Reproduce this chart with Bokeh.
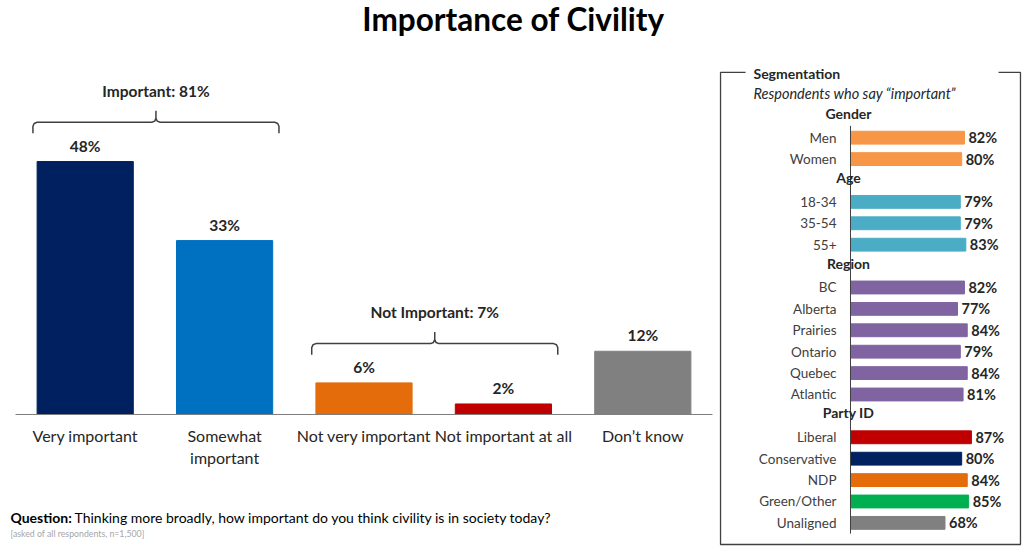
from bokeh.plotting import figure
from bokeh.models import Range1d, FixedTicker, ColumnDataSource
from bokeh.layouts import column, row
from bokeh.core.properties import value
from bokeh.embed import file_html
from bokeh.resources import INLINE

FONT = value("Lato")

# ---------------- data ----------------
categories = ["Very important", "Somewhat important", "Not very important",
              "Not important at all", "Don\u2019t know"]
tick_labels = ["Very important", "Somewhat\nimportant", "Not very important",
               "Not important at all", "Don\u2019t know"]
values = [48, 33, 6, 2, 12]
bar_colors = ["#002060", "#0070C0", "#E46C0A", "#C00000", "#808080"]

group_labels = ["Important: 81%", "Not Important: 7%"]
group_members = [[0, 1], [2, 3]]

seg_groups = ["Gender", "Age", "Region", "Party ID"]
gender_labels = ["Men", "Women"]
gender_values = [82, 80]
age_labels = ["18-34", "35-54", "55+"]
age_values = [79, 79, 83]
region_labels = ["BC", "Alberta", "Prairies", "Ontario", "Quebec", "Atlantic"]
region_values = [82, 77, 84, 79, 84, 81]
party_labels = ["Liberal", "Conservative", "NDP", "Green/Other", "Unaligned"]
party_values = [87, 80, 84, 85, 68]
gender_colors = ["#F79646"] * 2
age_colors = ["#4BACC6"] * 3
region_colors = ["#8064A2"] * 6
party_colors = ["#C00000", "#002060", "#E46C0A", "#00B050", "#808080"]

TXT = "#262626"
LINE = "#404040"


def clean(p):
    p.xgrid.visible = False
    p.ygrid.visible = False
    p.outline_line_color = None
    p.background_fill_color = "white"
    p.border_fill_color = "white"


# ---------------- title ----------------
tf = figure(width=1024, height=48, x_range=Range1d(0, 1024), y_range=Range1d(0, 48),
            output_backend="svg", toolbar_location=None,
            x_axis_location=None, y_axis_location=None,
            min_border_left=0, min_border_right=0,
            min_border_top=0, min_border_bottom=0)
clean(tf)
tf.text(x=[513], y=[30], text=["Importance of Civility"], text_font=FONT,
        text_font_size="31.5px", text_font_style="bold", text_color="black",
        text_align="center", text_baseline="middle")

# ---------------- main chart ----------------
n = len(categories)
xs = [i + 0.5 for i in range(n)]
PX = 139.4  # pixels per category slot
p = figure(width=716, height=457, x_range=Range1d(-15 / PX, n + 4 / PX),
           y_range=Range1d(-0.19, 69.45),
           output_backend="svg", toolbar_location=None, y_axis_location=None,
           min_border_left=0, min_border_right=0, min_border_top=0, min_border_bottom=90)
clean(p)
src = ColumnDataSource(dict(x=xs, top=values, color=bar_colors,
                            lbl=[f"{v}%" for v in values]))
p.vbar(x="x", top="top", width=0.69, color="color", source=src)
p.segment(x0=[0], y0=[0], x1=[n], y1=[0], line_color="#7f7f7f", line_width=1)
p.text(x="x", y="top", text="lbl", source=src, text_font=FONT, text_font_size="15.5px",
       text_font_style="bold", text_color=TXT, text_align="center",
       text_baseline="bottom", y_offset=-7)

ax = p.xaxis[0]
ax.ticker = FixedTicker(ticks=xs)
ax.major_label_overrides = {x: lab for x, lab in zip(xs, tick_labels)}
ax.major_tick_line_color = None
ax.minor_tick_line_color = None
ax.major_label_standoff = 4
ax.axis_line_color = None
ax.major_label_text_font = "Lato"
ax.major_label_text_font_size = "16px"
ax.major_label_text_color = TXT

# braces
for lab, mem in zip(group_labels, group_members):
    x0 = xs[mem[0]] - 0.345 - 0.03
    x1 = xs[mem[-1]] + 0.345 + 0.045
    xc = (x0 + x1) / 2
    h = max(values[i] for i in mem) + 7.45
    rx, ry = 0.03, 0.75
    bx = [x0, x0, x0 + rx * 0.3, x0 + rx, xc - rx, xc - rx * 0.3, xc, xc,
          xc, xc + rx * 0.3, xc + rx, x1 - rx, x1 - rx * 0.3, x1, x1]
    by = [h - 2.1, h - ry, h - ry * 0.3, h, h, h + ry * 0.3, h + ry, h + 2.2,
          h + ry, h + ry * 0.3, h, h, h - ry * 0.3, h - ry, h - 2.1]
    p.line(bx, by, line_color=LINE, line_width=1.5)
    p.text(x=[xc], y=[h + 6.0], text=[lab], text_font=FONT, text_font_size="15.5px",
           text_font_style="bold", text_color=TXT, text_align="center",
           text_baseline="middle")

# ---------------- question ----------------
qf = figure(width=716, height=48, x_range=Range1d(0, 716), y_range=Range1d(0, 48),
            output_backend="svg", toolbar_location=None,
            x_axis_location=None, y_axis_location=None,
            min_border_left=0, min_border_right=0, min_border_top=0, min_border_bottom=0)
clean(qf)
qf.text(x=[10], y=[36], text=["Question:"], text_font=FONT, text_font_size="14px",
        text_font_style="bold", text_color="black", text_align="left", text_baseline="middle")
qf.text(x=[74], y=[36], text=["Thinking more broadly, how important do you think civility is in society today?"],
        text_font=FONT, text_font_size="14px", text_color="black",
        text_align="left", text_baseline="middle")
qf.text(x=[10], y=[20], text=["[asked of all respondents, n=1,500]"], text_font=FONT,
        text_font_size="8.75px", text_color="#a6a6a6", text_align="left", text_baseline="middle")

# ---------------- segmentation panel ----------------
s = figure(width=308, height=505, x_range=Range1d(-96.4, 125.2),
           y_range=Range1d(start=22.43, end=-0.70),
           output_backend="svg", toolbar_location=None,
           x_axis_location=None, y_axis_location=None,
           min_border_left=0, min_border_right=0, min_border_top=10, min_border_bottom=0)
clean(s)

blocks = [(gender_labels, gender_values, gender_colors),
          (age_labels, age_values, age_colors),
          (region_labels, region_values, region_colors),
          (party_labels, party_values, party_colors)]
hy, hl = [], []
ry_, rl, rv, rc = [], [], [], []
idx = 2
for g, (labs, vals, cols) in zip(seg_groups, blocks):
    hy.append(idx)
    hl.append(g)
    idx += 1
    for l, v, c in zip(labs, vals, cols):
        ry_.append(idx)
        rl.append(l)
        rv.append(v)
        rc.append(c)
        idx += 1

ssrc = ColumnDataSource(dict(y=ry_, lab=rl, v=rv, c=rc, vl=[f"{v}%" for v in rv],
                             zero=[0] * len(rv)))
s.hbar(y="y", left=0, right="v", height=0.6, color="c", source=ssrc)
s.segment(x0=[0], y0=[2.45], x1=[0], y1=[21.5], line_color=LINE, line_width=1)
s.text(x="zero", y="y", text="lab", source=ssrc, text_font=FONT, text_font_size="13.5px",
       text_color="#404040", text_align="right", text_baseline="middle", x_offset=-14)
s.text(x="v", y="y", text="vl", source=ssrc, text_font=FONT, text_font_size="14.5px",
       text_font_style="bold", text_color=TXT, text_align="left", text_baseline="middle",
       x_offset=4)
s.text(x=[0] * len(hy), y=hy, text=hl, text_font=FONT, text_font_size="14px",
       text_font_style="bold", text_color=TXT, text_align="center", text_baseline="middle",
       x_offset=-2, y_offset=-3)
s.text(x=[-69.8], y=[0], text=["Segmentation"], text_font=FONT, text_font_size="14px",
       text_font_style="bold", text_color=TXT, text_align="left", text_baseline="middle")
s.text(x=[-69.8], y=[1], text=["Respondents who say \u201cimportant\u201d"], text_font=FONT,
       text_font_size="14.5px", text_font_style="italic", text_color=TXT,
       text_align="left", text_baseline="middle", y_offset=-1)
s.multi_line(xs=[[-75.5, -93.5, -93.5, 122.3, 122.3, 106.5]],
             ys=[[-0.047, -0.047, 22.01, 22.01, -0.047, -0.047]],
             line_color=LINE, line_width=1.3)

layout = column(tf, row(column(p, qf), s))
open("out.html", "w").write(file_html(layout, INLINE))
